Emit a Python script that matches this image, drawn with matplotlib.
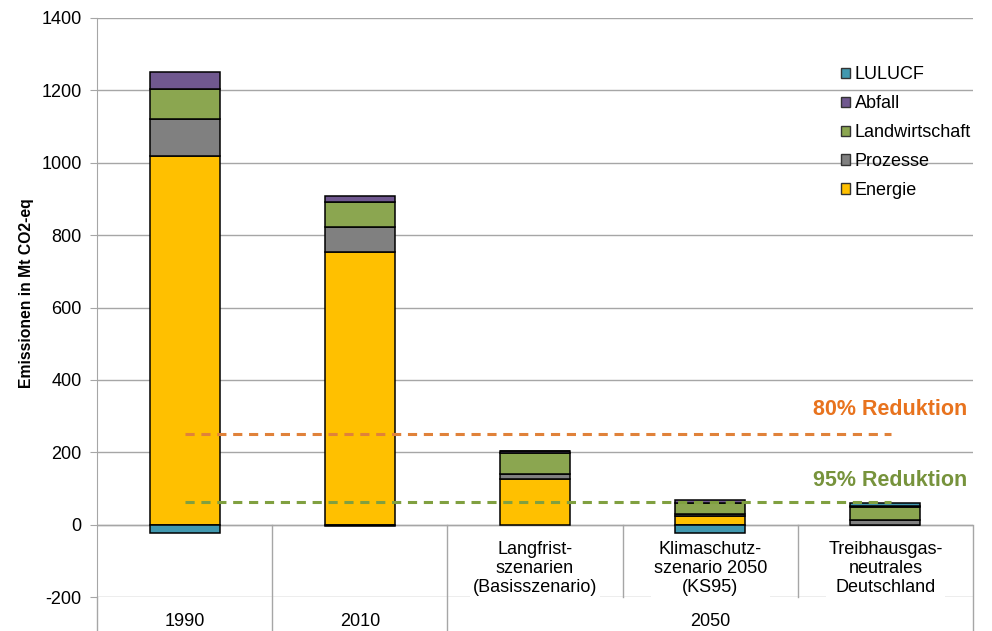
import numpy as np
import matplotlib
matplotlib.use("Agg")
from matplotlib import pyplot as plt
from matplotlib.patches import Patch

plt.rcParams['font.family'] = ['Liberation Sans', 'DejaVu Sans']
plt.rcParams['axes.unicode_minus'] = False

#-------------------------------------------------------------------
# data (Mt CO2-eq)
years = ['1990', '2010', '2050']
scenarios = ['Langfrist-\nszenarien\n(Basisszenario)',
             'Klimaschutz-\nszenario 2050\n(KS95)',
             'Treibhausgas-\nneutrales\nDeutschland']

sectors = ['Energie', 'Prozesse', 'Landwirtschaft', 'Abfall', 'LULUCF']
energie = [1018, 752, 127, 23, 0]
prozesse = [102, 71, 12, 5, 12]
landwirtschaft = [85, 69, 60, 33, 36]
abfall = [45, 17, 5, 8, 3]
lulucf = [-22, -5, 0, -22, 10]

reductions = [0.80, 0.95]
red_labels = ['80% Reduktion', '95% Reduktion']

colors = ['#FFC000', '#808080', '#8BA650', '#70588F', '#4198AF']
red_colors = ['#E0823A', '#80A040']
red_text_colors = ['#E8731E', '#77933C']
grid_col = '#A6A6A6'

#-------------------------------------------------------------------
values = [energie, prozesse, landwirtschaft, abfall, lulucf]
x = np.arange(len(energie))
w = 0.4
fs = 13

fig = plt.figure(figsize=(9.92, 6.31), dpi=100)
ax = fig.add_axes([97/992, 1-597/631, 876/992, 579/631])
ax.set_xlim(-0.5, 4.5)
ax.set_ylim(-200, 1400)
y_bottom = -200 - 34/579*1600   # lower edge of the figure in data units

pos = np.zeros(len(x))
neg = np.zeros(len(x))
for vals, c in zip(values, colors):
	vals = np.array(vals, dtype=float)
	base = np.where(vals >= 0, pos, neg)
	ax.bar(x, vals, w, bottom=base, color=c, edgecolor='black', linewidth=1.1, zorder=3)
	pos = pos + np.clip(vals, 0, None)
	neg = neg + np.clip(vals, None, 0)

# reduction targets against 1990 (without LULUCF)
total1990 = energie[0] + prozesse[0] + landwirtschaft[0] + abfall[0]
text_y = [318, 122]
for r, lab, lc, tc, ty in zip(reductions, red_labels, red_colors, red_text_colors, text_y):
	level = total1990*(1-r)
	ax.plot([0, 4.03], [level, level], color=lc, lw=2.2, ls=(0, (3, 2.2)), zorder=4)
	ax.text(4.47, ty, lab, color=tc, fontsize=15.5, fontweight='bold', ha='right', va='center')

# axes styling
ax.set_yticks(range(-200, 1401, 200))
ax.yaxis.grid(True, color=grid_col, lw=1)
ax.set_axisbelow(True)
ax.set_xticks([])
for s in ['top', 'right', 'bottom']:
	ax.spines[s].set_visible(False)
ax.spines['left'].set_color(grid_col)
ax.tick_params(axis='y', length=5, color=grid_col, labelsize=fs, pad=6)
ax.set_ylabel('Emissionen in Mt CO2-eq', fontsize=11.3, fontweight='bold')
ax.yaxis.set_label_coords(-0.072, 0.525)

# category axis below
ax.axhline(0, color=grid_col, lw=1, zorder=2)
ax.plot([-0.5, -0.5], [-200, y_bottom], color=grid_col, lw=1, clip_on=False)
for xs in [0.5, 1.5, 4.5]:
	ax.plot([xs, xs], [0, y_bottom], color=grid_col, lw=1, clip_on=False)
for xs in [2.5, 3.5]:
	ax.plot([xs, xs], [0, -200], color=grid_col, lw=1, clip_on=False)

lab_y = -200 - 25/579*1600
ax.text(0, lab_y, years[0], ha='center', va='center', fontsize=fs, clip_on=False)
ax.text(1, lab_y, years[1], ha='center', va='center', fontsize=fs, clip_on=False)
ax.text(3, lab_y, years[2], ha='center', va='center', fontsize=fs, clip_on=False)
for i, s in enumerate(scenarios):
	ax.text(2+i, -122, s, ha='center', va='center', fontsize=fs, linespacing=1.15,
		bbox=dict(facecolor='white', edgecolor='none', pad=2), zorder=5)

# legend
handles = [Patch(facecolor=c, edgecolor='#333333', linewidth=1) for c in colors][::-1]
ax.legend(handles, sectors[::-1], loc='upper left', bbox_to_anchor=(825/992, 1-50/631),
	bbox_transform=fig.transFigure, frameon=False, fontsize=fs,
	handlelength=0.5, handleheight=0.5, handletextpad=0.25, labelspacing=0.66)

plt.savefig('out.png', dpi=100)
